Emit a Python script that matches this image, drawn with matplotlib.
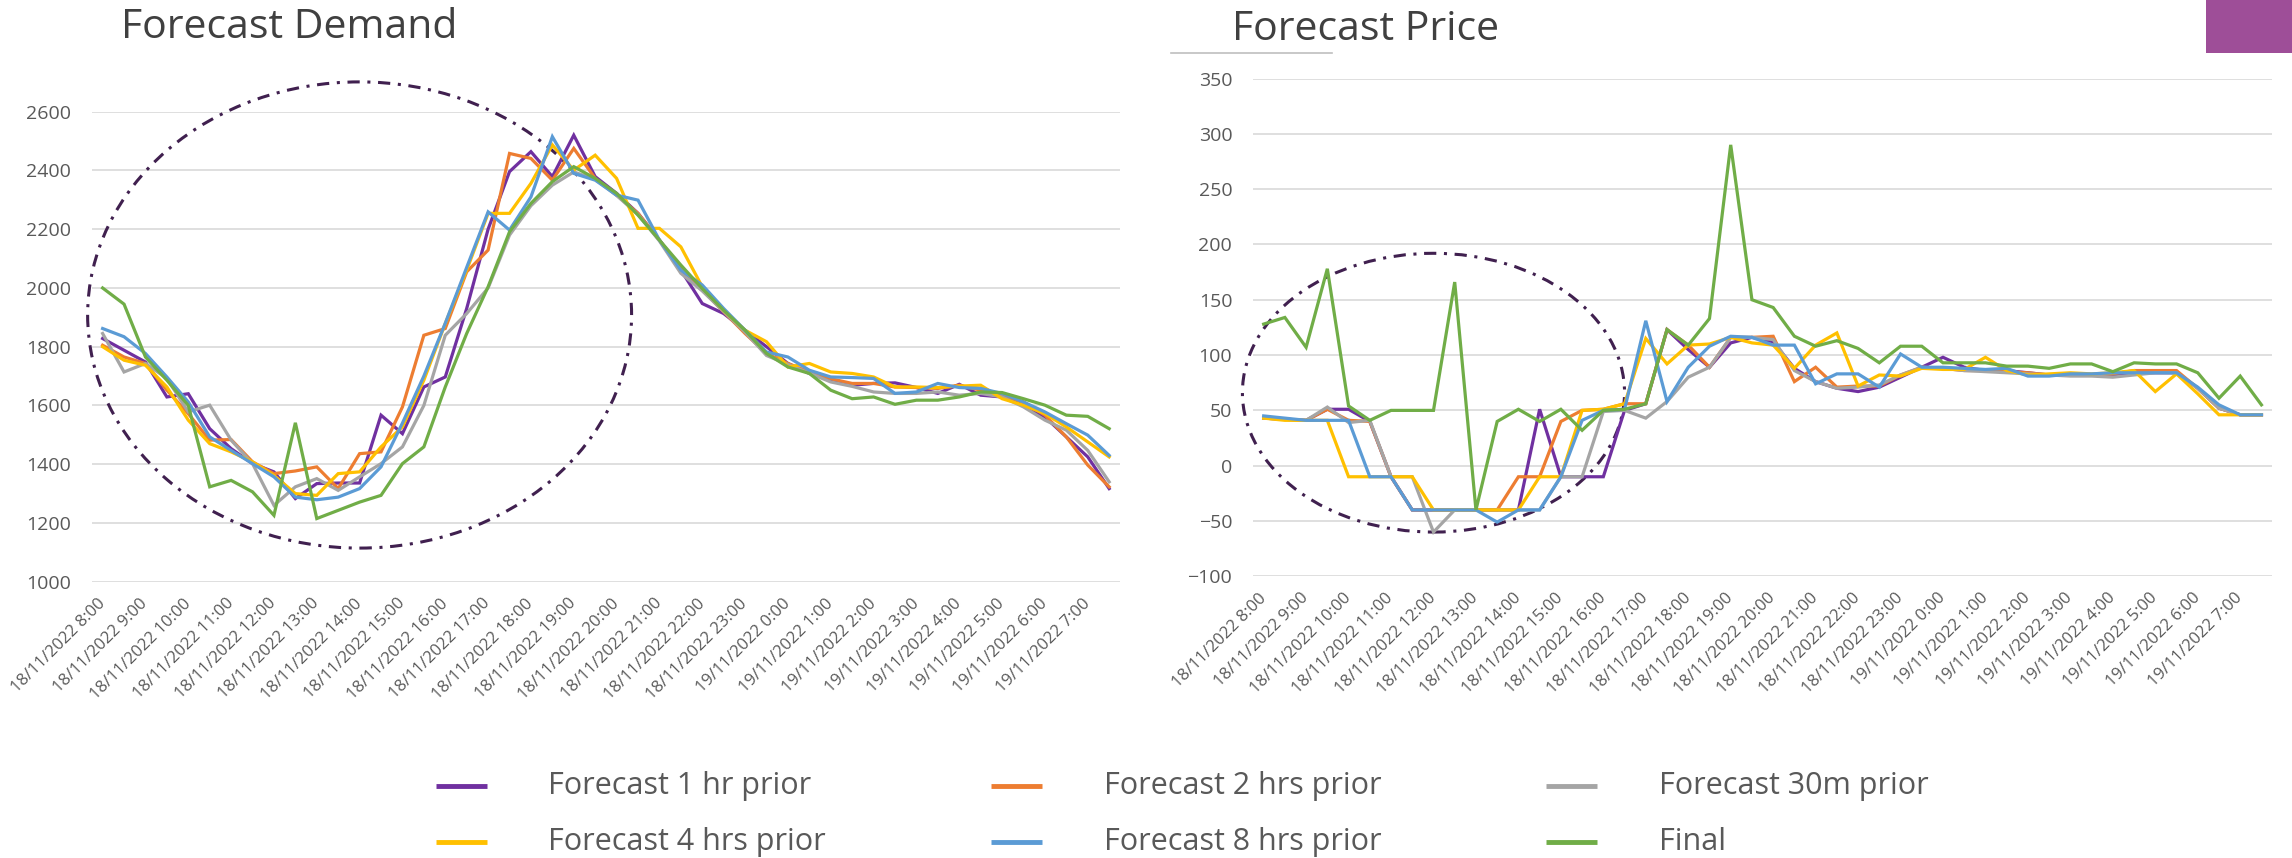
import matplotlib
matplotlib.use("Agg")
import matplotlib.pyplot as plt
from matplotlib.lines import Line2D
from matplotlib.patches import Ellipse, Rectangle
import numpy as np

plt.rcParams['font.family'] = ['Open Sans', 'DejaVu Sans']

# --- data (half-hourly, 18/11/2022 8:00 -> 19/11/2022 7:30)
hour_labels = ["18/11/2022 8:00", "18/11/2022 9:00", "18/11/2022 10:00", "18/11/2022 11:00",
               "18/11/2022 12:00", "18/11/2022 13:00", "18/11/2022 14:00", "18/11/2022 15:00",
               "18/11/2022 16:00", "18/11/2022 17:00", "18/11/2022 18:00", "18/11/2022 19:00",
               "18/11/2022 20:00", "18/11/2022 21:00", "18/11/2022 22:00", "18/11/2022 23:00",
               "19/11/2022 0:00", "19/11/2022 1:00", "19/11/2022 2:00", "19/11/2022 3:00",
               "19/11/2022 4:00", "19/11/2022 5:00", "19/11/2022 6:00", "19/11/2022 7:00"]

series_names = ["Forecast 1 hr prior", "Forecast 2 hrs prior", "Forecast 30m prior",
                "Forecast 4 hrs prior", "Forecast 8 hrs prior", "Final"]
series_colors = ['#7030A0', '#ED7D31', '#A5A5A5', '#FFC000', '#5B9BD5', '#70AD47']

demand_1hr = [1828, 1788, 1748, 1629, 1640, 1521, 1453, 1402, 1374, 1283, 1334, 1336,
              1336, 1567, 1504, 1663, 1697, 1930, 2200, 2396, 2464, 2379, 2520, 2379,
              2322, 2254, 2163, 2061, 1947, 1913, 1856, 1800, 1743, 1709, 1686, 1669,
              1675, 1677, 1661, 1641, 1672, 1635, 1629, 1601, 1561, 1493, 1425, 1317]
demand_2hr = [1805, 1765, 1743, 1652, 1572, 1482, 1484, 1408, 1368, 1377, 1391, 1317,
              1436, 1442, 1595, 1839, 1862, 2055, 2129, 2458, 2441, 2367, 2475, 2373,
              2316, 2254, 2163, 2066, 1993, 1919, 1845, 1777, 1743, 1714, 1691, 1675,
              1675, 1663, 1661, 1658, 1669, 1652, 1635, 1612, 1567, 1493, 1397, 1323]
demand_30m = [1845, 1714, 1743, 1692, 1578, 1601, 1482, 1402, 1260, 1323, 1351, 1311,
              1357, 1402, 1459, 1600, 1839, 1913, 2000, 2180, 2280, 2350, 2395, 2370,
              2315, 2250, 2160, 2050, 1990, 1920, 1850, 1770, 1740, 1710, 1680, 1665,
              1646, 1641, 1641, 1646, 1635, 1641, 1629, 1595, 1550, 1516, 1447, 1340]
demand_4hr = [1800, 1754, 1737, 1663, 1550, 1470, 1442, 1408, 1362, 1300, 1294, 1368,
              1374, 1459, 1527, 1686, 1879, 2061, 2254, 2254, 2356, 2487, 2401, 2452,
              2373, 2203, 2203, 2140, 2004, 1924, 1856, 1817, 1731, 1743, 1714, 1709,
              1697, 1663, 1663, 1661, 1666, 1669, 1623, 1601, 1572, 1527, 1476, 1425]
demand_8hr = [1862, 1834, 1777, 1697, 1612, 1493, 1447, 1402, 1357, 1288, 1279, 1288,
              1317, 1391, 1540, 1700, 1880, 2070, 2259, 2197, 2310, 2515, 2390, 2367,
              2316, 2299, 2163, 2061, 2010, 1930, 1856, 1782, 1765, 1720, 1697, 1695,
              1692, 1641, 1646, 1675, 1661, 1658, 1641, 1612, 1578, 1538, 1499, 1430]
demand_final = [2000, 1945, 1765, 1686, 1600, 1323, 1345, 1306, 1226, 1541, 1215, 1243,
                1271, 1294, 1402, 1459, 1663, 1845, 2004, 2191, 2288, 2362, 2413, 2373,
                2322, 2248, 2163, 2078, 1998, 1924, 1856, 1777, 1731, 1709, 1652, 1623,
                1629, 1604, 1618, 1618, 1629, 1646, 1644, 1623, 1601, 1567, 1563, 1521]

price_1hr = [43, 42, 41, 51, 51, 40, -10, -40, -40, -40, -40, -40,
             -40, 51, -10, -10, -10, 50, 56, 123, 105, 89, 111, 116,
             112, 88, 76, 70, 67, 71, 80, 89, 98, 89, 86, 86,
             84, 82, 82, 82, 82, 84, 84, 84, 70, 52, 46, 46]
price_2hr = [43, 42, 41, 51, 41, 40, -10, -40, -40, -40, -40, -40,
             -10, -10, 40, 50, 51, 56, 56, 123, 109, 89, 116, 116,
             117, 76, 89, 71, 72, 72, 82, 89, 88, 86, 86, 85,
             84, 82, 83, 82, 83, 86, 86, 86, 70, 52, 46, 46]
price_30m = [43, 42, 41, 53, 39, 41, -10, -10, -60, -40, -40, -40,
             -40, -40, -10, -10, 49, 50, 43, 58, 80, 89, 116, 116,
             114, 86, 76, 70, 71, 73, 82, 89, 88, 86, 85, 84,
             83, 82, 81, 81, 80, 82, 84, 84, 70, 52, 46, 46]
price_4hr = [43, 41, 41, 41, -10, -10, -10, -10, -40, -40, -40, -40,
             -40, -10, -10, 50, 51, 56, 115, 92, 109, 110, 116, 111,
             109, 88, 109, 120, 72, 82, 81, 88, 87, 87, 98, 86,
             82, 83, 84, 83, 84, 86, 67, 83, 65, 46, 46, 46]
price_8hr = [45, 43, 41, 41, 41, -10, -10, -40, -40, -40, -40, -51,
             -40, -40, -10, 41, 50, 51, 131, 58, 89, 108, 117, 116,
             109, 109, 74, 83, 83, 71, 101, 89, 89, 88, 87, 88,
             81, 81, 83, 83, 84, 84, 84, 84, 71, 55, 46, 46]
price_final = [128, 134, 107, 178, 54, 41, 50, 50, 50, 166, -40, 40,
               51, 40, 51, 32, 50, 51, 56, 123, 109, 133, 290, 150,
               143, 117, 108, 113, 106, 93, 108, 108, 93, 93, 93, 90,
               90, 88, 92, 92, 85, 93, 92, 92, 84, 61, 81, 55]

demand_series = [demand_1hr, demand_2hr, demand_30m, demand_4hr, demand_8hr, demand_final]
price_series = [price_1hr, price_2hr, price_30m, price_4hr, price_8hr, price_final]

x = np.arange(len(demand_final))

fig = plt.figure(figsize=(22.92, 8.58), dpi=100)
ax1 = fig.add_axes([0.0401, 0.3220, 0.4485, 0.5478])
ax2 = fig.add_axes([0.5467, 0.3283, 0.4446, 0.5802])


def style_axis(ax, ylo, yhi, step):
    for s in ax.spines.values():
        s.set_visible(False)
    ax.set_xlim(-0.5, len(x) - 0.5)
    ax.set_ylim(ylo, yhi)
    ax.set_yticks(np.arange(ylo, yhi + 1, step))
    ax.yaxis.grid(True, color='#D9D9D9', lw=1.2)
    ax.set_axisbelow(True)
    ax.set_xticks(np.arange(0, len(x), 2))
    ax.set_xticklabels(hour_labels, rotation=45, ha='right', va='center',
                       rotation_mode='anchor', fontsize=12)
    ax.tick_params(axis='both', length=0, labelcolor='#595959')
    ax.tick_params(axis='y', pad=15, labelsize=14)
    ax.tick_params(axis='x', pad=14)


for ax, data in ((ax1, demand_series), (ax2, price_series)):
    for vals, col in zip(data, series_colors):
        ax.plot(x, vals, color=col, lw=2.3, solid_joinstyle='miter')

style_axis(ax1, 1000, 2600, 200)
style_axis(ax2, -100, 350, 50)

# dash-dot circles around the afternoon period
ell_style = dict(fill=False, ec='#40204F', lw=2.2, ls=(0, (4, 2.5, 1, 2.5)), clip_on=False)
ax1.add_patch(Ellipse((12, 1908), 25.4, 1587, **ell_style))
ax2.add_patch(Ellipse((8.0, 66), 18.0, 252, **ell_style))

# titles
W, H = 2292, 858
fig.text(121 / W, 1 - 38 / H, "Forecast Demand", fontsize=29.5, color='#404040', va='baseline')
fig.text(1232 / W, 1 - 40 / H, "Forecast Price", fontsize=29.5, color='#404040', va='baseline')
fig.add_artist(Line2D([1171 / W, 1332 / W], [1 - 53 / H, 1 - 53 / H],
                      color='#BFBFBF', lw=1.2, transform=fig.transFigure))
fig.add_artist(Rectangle((2206 / W, 1 - 53 / H), (W - 2206) / W, 53 / H,
                         color='#9E4E98', transform=fig.transFigure, lw=0))

# legend
col_line_x = [436, 991, 1546]
col_text_x = [548, 1104, 1659]
row_y = [786, 842]
for i, (name, col) in enumerate(zip(series_names, series_colors)):
    r, c = divmod(i, 3)
    yy = 1 - row_y[r] / H
    fig.add_artist(Line2D([col_line_x[c] / W, (col_line_x[c] + 51) / W], [yy, yy],
                          color=col, lw=3.5, solid_capstyle='butt',
                          transform=fig.transFigure))
    fig.text(col_text_x[c] / W, yy, name, fontsize=22, color='#595959', va='center')

fig.savefig("out.png", dpi=100)
